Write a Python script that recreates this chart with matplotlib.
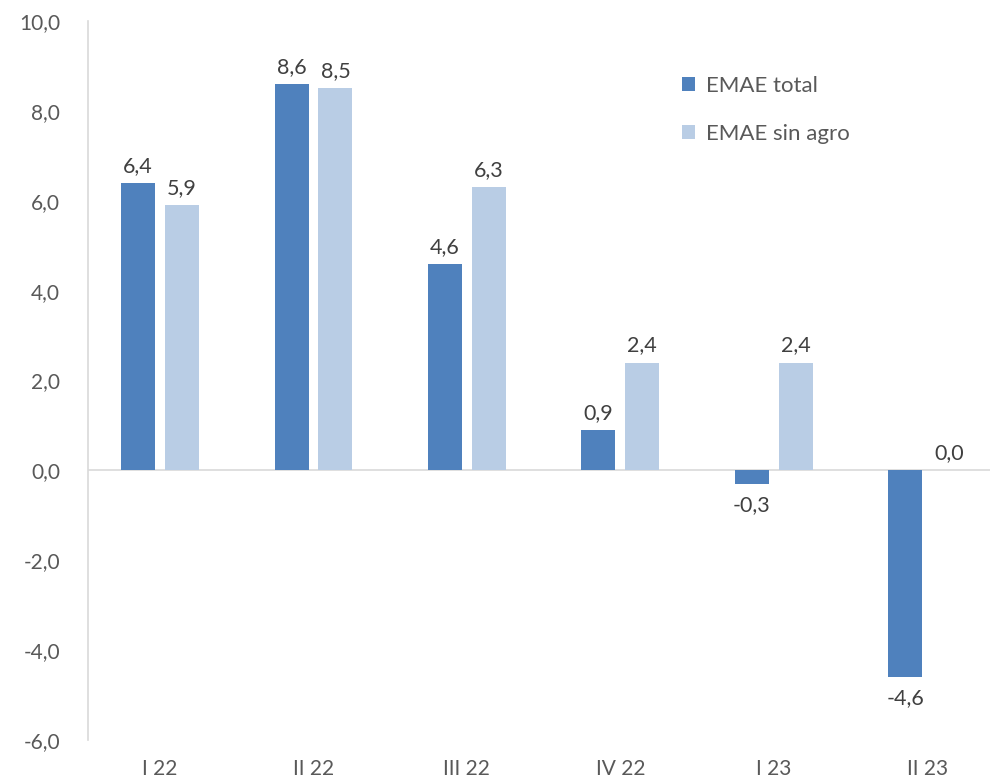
import matplotlib.pyplot as plt
import numpy as np

categories = ["I 22", "II 22", "III 22", "IV 22", "I 23", "II 23"]
emae_total = [6.4, 8.6, 4.6, 0.9, -0.3, -4.6]
emae_sin_agro = [5.9, 8.5, 6.3, 2.4, 2.4, 0.0]
series_names = ["EMAE total", "EMAE sin agro"]
yticks = [-6, -4, -2, 0, 2, 4, 6, 8, 10]

plt.rcParams['font.family'] = ['Lato', 'DejaVu Sans']

dark = "#4F81BD"
light = "#B9CDE5"
grey_txt = "#595959"

fig = plt.figure(figsize=(9.9, 7.81), dpi=100)
ax = fig.add_axes([88 / 990, 1 - 740 / 781, 1 - 88 / 990, 719 / 781])

x = np.arange(len(categories))
w = 0.222
off = 0.143
b1 = ax.bar(x - off, emae_total, w, color=dark, label=series_names[0])
b2 = ax.bar(x + off, emae_sin_agro, w, color=light, label=series_names[1])

def fmt(v):
    return ("%.1f" % v).replace(".", ",")

for bars, vals in [(b1, emae_total), (b2, emae_sin_agro)]:
    for r, v in zip(bars, vals):
        cx = r.get_x() + r.get_width() / 2
        if v >= 0:
            ax.annotate(fmt(v), (cx, v), xytext=(0, 5), textcoords="offset points",
                        ha="center", va="bottom", fontsize=15.5, color="#404040")
        else:
            ax.annotate(fmt(v), (cx, v), xytext=(0, -8), textcoords="offset points",
                        ha="center", va="top", fontsize=15.5, color="#404040")

ax.set_ylim(-6, 10)
ax.set_xlim(-0.47, 5.41)
ax.set_yticks(yticks)
ax.set_yticklabels([fmt(t) for t in yticks], fontsize=15, color=grey_txt)
ax.set_xticks(x)
ax.set_xticklabels(categories, fontsize=15, color=grey_txt)
ax.tick_params(axis="both", length=0)
ax.tick_params(axis="y", pad=20)
ax.tick_params(axis="x", pad=14)

for s in ["top", "right", "bottom"]:
    ax.spines[s].set_visible(False)
ax.spines["left"].set_color("#D9D9D9")
ax.spines["left"].set_linewidth(1.2)
ax.axhline(0, color="#D9D9D9", linewidth=1.2, zorder=0)

ax.legend(loc="upper left", bbox_to_anchor=(662 / 990, 1 - 56 / 781),
          bbox_transform=fig.transFigure, frameon=False, fontsize=16,
          handlelength=0.6, handleheight=0.6, handletextpad=0.5,
          labelspacing=1.25, labelcolor=grey_txt)

fig.savefig("out.png", dpi=100)
